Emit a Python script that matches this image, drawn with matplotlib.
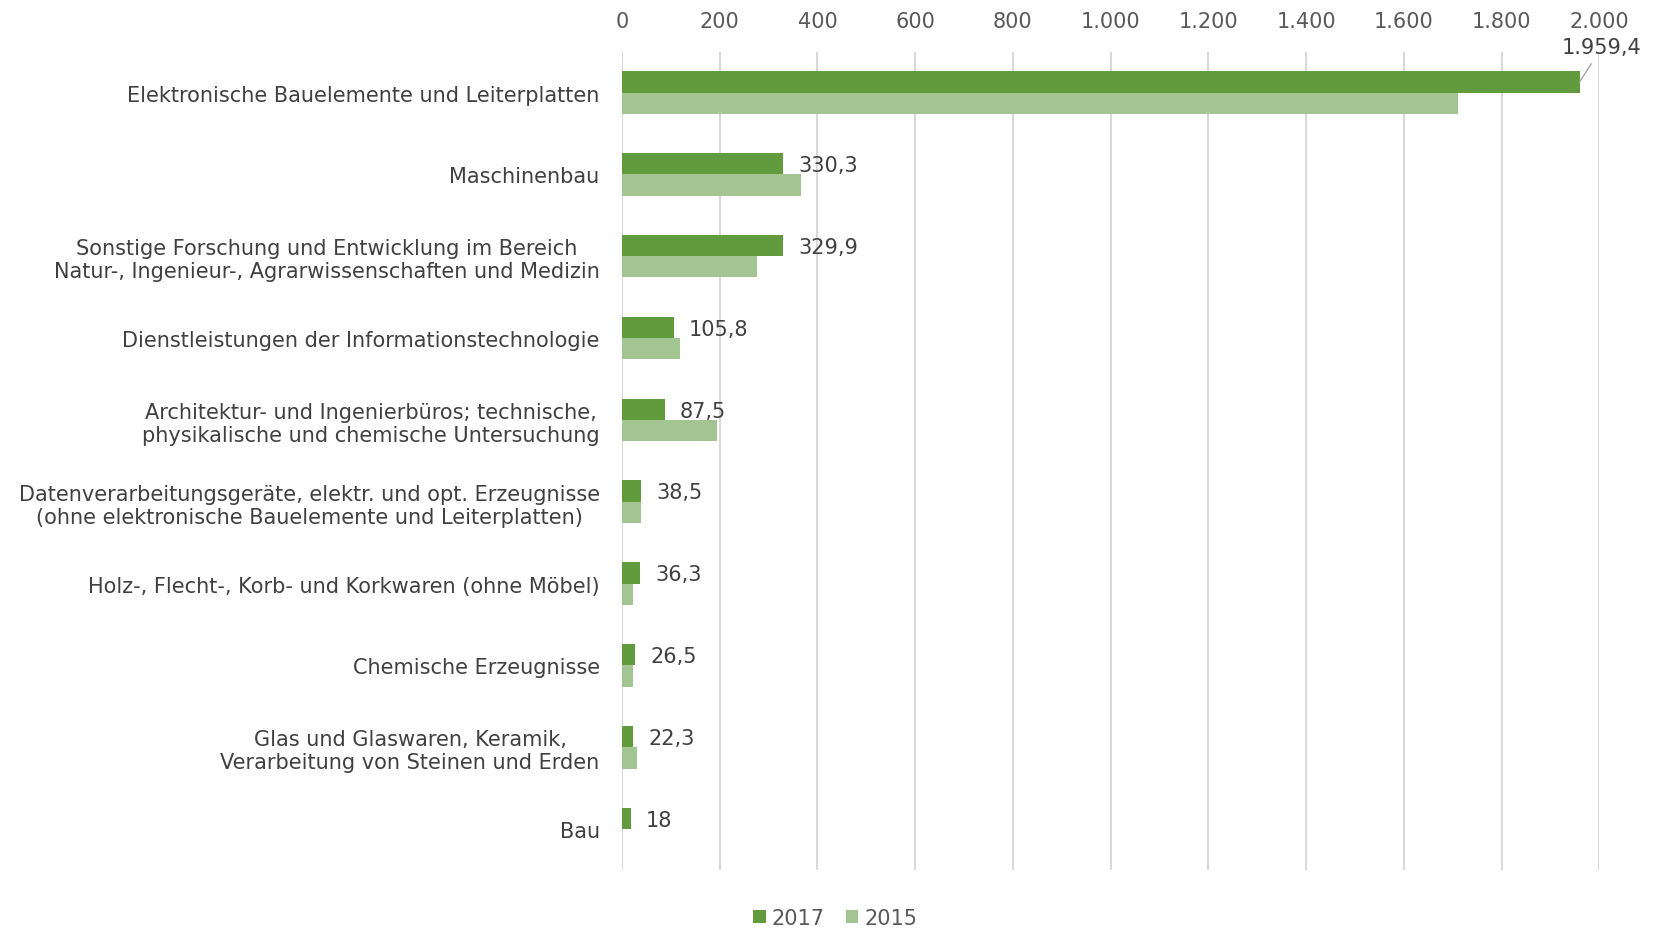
import matplotlib.pyplot as plt
import numpy as np

# Daten
kategorien = [
    "Elektronische Bauelemente und Leiterplatten",
    "Maschinenbau",
    "Sonstige Forschung und Entwicklung im Bereich\nNatur-, Ingenieur-, Agrarwissenschaften und Medizin",
    "Dienstleistungen der Informationstechnologie",
    "Architektur- und Ingenierbüros; technische,\nphysikalische und chemische Untersuchung",
    "Datenverarbeitungsgeräte, elektr. und opt. Erzeugnisse\n(ohne elektronische Bauelemente und Leiterplatten)",
    "Holz-, Flecht-, Korb- und Korkwaren (ohne Möbel)",
    "Chemische Erzeugnisse",
    "Glas und Glaswaren, Keramik,\nVerarbeitung von Steinen und Erden",
    "Bau",
]
werte_2017 = [1959.4, 330.3, 329.9, 105.8, 87.5, 38.5, 36.3, 26.5, 22.3, 18]
werte_2015 = [1710, 367, 276, 118, 194, 40, 22.5, 22, 31, 0]
beschriftung_2017 = ["1.959,4", "330,3", "329,9", "105,8", "87,5", "38,5", "36,3", "26,5", "22,3", "18"]
x_ticks = [0, 200, 400, 600, 800, 1000, 1200, 1400, 1600, 1800, 2000]
x_ticklabels = ["0", "200", "400", "600", "800", "1.000", "1.200", "1.400", "1.600", "1.800", "2.000"]

farbe_2017 = "#629B3E"
farbe_2015 = "#A3C591"
text_farbe = "#404040"
achsen_farbe = "#595959"
fs = 15

plt.rcParams['font.family'] = ['DejaVu Sans']

fig = plt.figure(figsize=(16.54, 9.29), dpi=100)
ax = fig.add_axes([0.376, 0.0624, 0.591, 0.881])

y = np.arange(len(kategorien))
h = 0.26
ax.barh(y - h / 2, werte_2017, height=h, color=farbe_2017, label="2017", zorder=3)
ax.barh(y + h / 2, werte_2015, height=h, color=farbe_2015, label="2015", zorder=3)

ax.set_xlim(0, 2000)
ax.set_ylim(len(kategorien) - 0.5, -0.5)
ax.set_xticks(x_ticks)
ax.set_xticklabels(x_ticklabels)
ax.xaxis.tick_top()
ax.tick_params(axis='x', length=0, pad=15, labelsize=fs, labelcolor=achsen_farbe)
ax.set_yticks(y)
ax.set_yticklabels(kategorien)
ax.tick_params(axis='y', length=0, pad=16, labelsize=fs, labelcolor=text_farbe)
for t in ax.get_yticklabels():
    t.set_multialignment('center')

ax.grid(axis='x', color="#D9D9D9", linewidth=1.5, zorder=0)
for s in ax.spines.values():
    s.set_visible(False)

# Werte-Beschriftungen 2017
for i, (v, txt) in enumerate(zip(werte_2017, beschriftung_2017)):
    if i == 0:
        ax.annotate(txt, xy=(v, i - h / 2), xytext=(2005, -0.55),
                    ha='center', va='center', fontsize=fs, color=text_farbe,
                    annotation_clip=False,
                    arrowprops=dict(arrowstyle='-', color="#A6A6A6", lw=1,
                                    shrinkA=3, shrinkB=0))
    else:
        ax.annotate(txt, xy=(v, i - h / 2), xytext=(11, -1), textcoords='offset points',
                    ha='left', va='center', fontsize=fs, color=text_farbe)

fig.legend(loc='lower center', bbox_to_anchor=(0.505, -0.02), ncol=2, frameon=False,
           fontsize=fs, labelcolor=achsen_farbe, handlelength=0.6, handleheight=0.6,
           handletextpad=0.3, columnspacing=1.0)

fig.savefig("out.png", dpi=100)
